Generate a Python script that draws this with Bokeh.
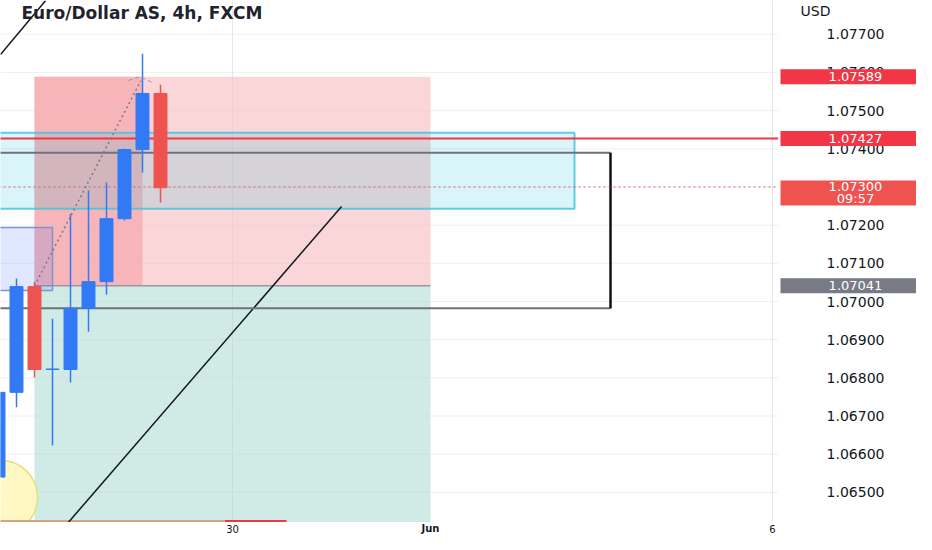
from bokeh.plotting import figure
from bokeh.models import Range1d, Label
from bokeh.layouts import row, column
from bokeh.embed import file_html
from bokeh.resources import INLINE
from bokeh.core.properties import value

# ---------------- data ----------------
# candles (bar index, 4h bars)
bar_idx = [-1, 0, 1, 2, 3, 4, 5, 6, 7, 8]
opens  = [1.06540, 1.06762, 1.07039, 1.06822, 1.06822, 1.06982, 1.07052, 1.07217, 1.07398, 1.07545]
closes = [1.06762, 1.07039, 1.06822, 1.06823, 1.06982, 1.07052, 1.07217, 1.07398, 1.07545, 1.07298]
highs  = [1.06770, 1.07060, 1.07052, 1.06955, 1.07230, 1.07291, 1.07312, 1.07400, 1.07649, 1.07568]
lows   = [1.06520, 1.06723, 1.06801, 1.06623, 1.06788, 1.06921, 1.07018, 1.07212, 1.07338, 1.07259]

price_ticks = [1.065, 1.066, 1.067, 1.068, 1.069, 1.070, 1.071, 1.072, 1.073, 1.074, 1.075, 1.076, 1.077]
time_ticks = [12, 23, 42]
time_labels = ["30", "Jun", "6"]
grid_times = [12, 42]

# short position tool
pos_left, pos_right, pos_progress = 1.0, 23.0, 7.0
pos_stop, pos_entry, pos_target = 1.07589, 1.07041, 1.06300
current_price = 1.07300
countdown = "09:57"
red_level = 1.07427

# drawings
cyan_box = dict(left=-1.0, right=31.0, top=1.07442, bottom=1.07243)
lav_box = dict(left=-1.0, right=2.0, top=1.07194, bottom=1.07029)
bracket = dict(left=-1.0, right=33.0, top=1.07390, bottom=1.06982)
trend_x = [1.06, 18.06]
trend_y = [1.06322, 1.07249]
topleft_x = [-0.89, 1.61]
topleft_y = [1.07647, 1.07788]
arrow_x = [1.0, 6.9]
arrow_y = [1.07041, 1.07578]
arrowhead_x = [6.22, 6.89, 7.56]
arrowhead_y = [1.07579, 1.07589, 1.07573]
tan_x = [-1.0, 11.56]
red_seg_x = [11.56, 15.0]
bottom_line_y = 1.06425
circle_x, circle_y = -0.89, 1.06487

# ---------------- scales ----------------
PX = 1 / 38170.0            # price units per screen pixel
xr = Range1d(-0.889, 42.333)
yr = Range1d(1.07 - 221 * PX, 1.07 + 301 * PX)
UP, DOWN = "#3179f5", "#ef5350"
FONT = "DejaVu Sans"

p = figure(width=778, height=522, output_backend="svg", toolbar_location=None,
           x_range=xr, y_range=yr, x_axis_type=None, y_axis_type=None, min_border=0)
p.background_fill_color = "white"
p.border_fill_color = "white"
p.outline_line_color = None

# position tool
p.quad(left=[pos_left], right=[pos_right], top=[pos_entry], bottom=[pos_target],
       fill_color="#d0ebe5", line_color=None)
p.quad(left=[pos_left], right=[pos_right], top=[pos_stop], bottom=[pos_entry],
       fill_color="#fbd6d9", line_color=None)
p.quad(left=[pos_left], right=[pos_progress], top=[pos_stop], bottom=[pos_entry],
       fill_color="#f7b4b9", line_color=None)

# grid
p.segment(x0=-1, y0=price_ticks, x1=44, y1=price_ticks, line_color="#c9ccd4",
          line_alpha=0.3, line_width=1)
p.segment(x0=grid_times, y0=1.06, x1=grid_times, y1=1.08, line_color="#c9ccd4",
          line_alpha=0.45, line_width=1)

p.line([pos_left, pos_right], [pos_entry, pos_entry], line_color="#9598a1", line_width=1.5)

# cyan zone
p.quad(left=[cyan_box["left"]], right=[cyan_box["right"]], top=[cyan_box["top"]],
       bottom=[cyan_box["bottom"]], fill_color="#00bcd4", fill_alpha=0.15,
       line_color="#46c3e2", line_width=2, line_alpha=0.85)
# lavender zone
p.quad(left=[lav_box["left"]], right=[lav_box["right"]], top=[lav_box["top"]],
       bottom=[lav_box["bottom"]], fill_color="#2962ff", fill_alpha=0.15,
       line_color="#7d93c9", line_width=1.5)

# yellow circle
p.scatter([circle_x], [circle_y], marker="circle", size=74, fill_color="#fff8c4",
          line_color="#e4df7e", line_width=1.5)

# bottom lines
p.line(red_seg_x, [bottom_line_y, bottom_line_y], line_color="#f23645", line_width=2)
p.line(tan_x, [bottom_line_y, bottom_line_y], line_color="#d8a47f", line_width=2)

# trend lines
p.line(trend_x, trend_y, line_color="#131722", line_width=1.5)
p.line(topleft_x, topleft_y, line_color="#131722", line_width=1.5)

# bracket
p.line([bracket["left"], bracket["right"]], [bracket["top"], bracket["top"]],
       line_color="#6f727d", line_width=2)
p.line([bracket["left"], bracket["right"]], [bracket["bottom"], bracket["bottom"]],
       line_color="#6f727d", line_width=2)
p.line([bracket["right"], bracket["right"]], [bracket["top"], bracket["bottom"]],
       line_color="#111111", line_width=2.5)

# red level line & current price line
p.line([-1, 44], [red_level, red_level], line_color="#f23645", line_width=2)
p.line([-1, 44], [current_price, current_price], line_color="#f23645", line_alpha=0.75,
       line_width=1, line_dash="2 3")

# candles
colors = [UP if c >= o else DOWN for o, c in zip(opens, closes)]
p.segment(x0=bar_idx, y0=lows, x1=bar_idx, y1=highs, line_color=colors, line_width=1.5)
p.vbar(x=bar_idx, width=0.72, top=[max(o, c) for o, c in zip(opens, closes)],
       bottom=[min(o, c) for o, c in zip(opens, closes)],
       fill_color=colors, line_color=colors, line_width=1)

# dashed path of position
p.line(arrow_x, arrow_y, line_color="#787b86", line_width=1.5, line_dash="2 3")
p.line(arrowhead_x, arrowhead_y, line_color="#9598a1", line_width=1, line_dash="4 3")

# title
p.add_layout(Label(x=21, y=510, x_units="screen", y_units="screen",
                   text="Euro/Dollar AS, 4h, FXCM", text_font=FONT,
                   text_font_size="17px", text_font_style="bold", text_color="#1f232e",
                   text_baseline="middle", text_align="left"))

# ---------------- price scale ----------------
p2 = figure(width=138, height=522, output_backend="svg", toolbar_location=None,
            x_range=Range1d(0, 138), y_range=yr, x_axis_type=None, y_axis_type=None,
            min_border=0)
p2.background_fill_color = "white"
p2.border_fill_color = "white"
p2.outline_line_color = None

p2.text(x=77, y=price_ticks, text=["%.5f" % t for t in price_ticks],
        text_font=value(FONT), text_font_size="14px", text_color="#131722",
        text_align="center", text_baseline="middle")
p2.add_layout(Label(x=22, y=512, x_units="screen", y_units="screen", text="USD",
                    text_font=FONT, text_font_size="14px", text_color="#131722",
                    text_baseline="middle", text_align="left"))

tag_prices = [pos_stop, red_level, pos_entry]
tag_colors = ["#f23645", "#f23645", "#787b86"]
p2.rect(x=70, y=tag_prices, width=136, height=15, height_units="screen",
        fill_color=tag_colors, line_color=None)
p2.text(x=77, y=tag_prices, text=["%.5f" % t for t in tag_prices],
        text_font=value(FONT), text_font_size="13px", text_color="white",
        text_align="center", text_baseline="middle")
# current price tag (two lines)
p2.rect(x=70, y=current_price - 6 * PX, width=136, height=25, height_units="screen",
        fill_color="#ef5350", line_color=None)
p2.text(x=77, y=[current_price, current_price - 12 * PX],
        text=["%.5f" % current_price, countdown],
        text_font=value(FONT), text_font_size="13px", text_color="white",
        text_align="center", text_baseline="middle")

# ---------------- time scale ----------------
p3 = figure(width=778, height=12, output_backend="svg", toolbar_location=None,
            x_range=xr, y_range=Range1d(0, 1), x_axis_type=None, y_axis_type=None,
            min_border=0)
p3.background_fill_color = "white"
p3.border_fill_color = "white"
p3.outline_line_color = None
p3.text(x=[time_ticks[0], time_ticks[2]], y=0.5, text=[time_labels[0], time_labels[2]],
        text_font=value(FONT), text_font_size="10px", text_color="#131722",
        text_align="center", text_baseline="middle")
p3.text(x=[time_ticks[1]], y=0.5, text=[time_labels[1]],
        text_font=value(FONT), text_font_size="10px", text_font_style="bold",
        text_color="#131722", text_align="center", text_baseline="middle")

layout = column(row(p, p2), p3)
open("out.html", "w").write(file_html(layout, INLINE))
